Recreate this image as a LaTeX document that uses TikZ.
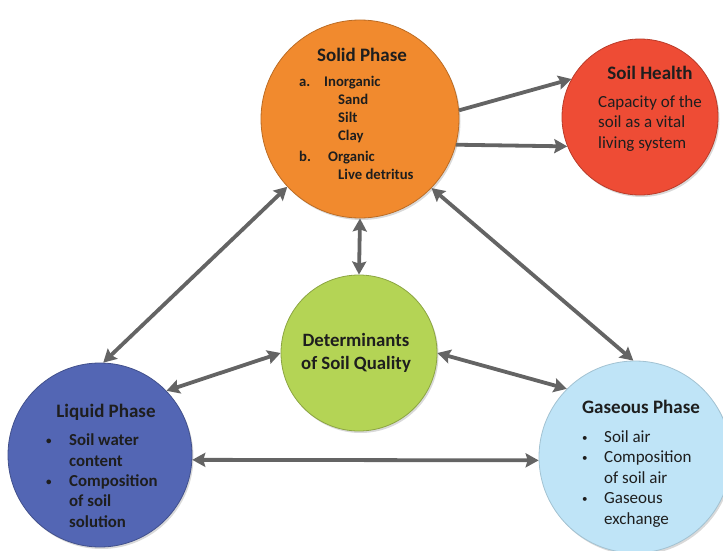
\documentclass[tikz,border=0pt]{standalone}
\usepackage{fontspec}
\setmainfont{Carlito}
\usepackage{xcolor}
\usetikzlibrary{arrows.meta,shadows}

\definecolor{solidorange}{HTML}{F18A2E}
\definecolor{healthred}{HTML}{EE4C35}
\definecolor{qualitygreen}{HTML}{B4D455}
\definecolor{liquidblue}{HTML}{5366B4}
\definecolor{gasblue}{HTML}{BFE4F7}
\definecolor{arrowgray}{HTML}{646464}
\definecolor{textdark}{HTML}{1E1E1E}

\newcommand{\titlefont}{\fontsize{19}{22}\selectfont\bfseries}
\newcommand{\smallbullet}{\raisebox{1pt}{\fontsize{11}{11}\selectfont\textbullet}}

\begin{document}
\begin{tikzpicture}[x=1pt,y=-1pt]
                \useasboundingbox (0,0) rectangle (723,551);

                \begin{scope}[every node/.style = {circle, draw, line width=0.8pt, inner sep=0pt,
                                drop shadow={opacity=0.3, shadow xshift=1.5pt, shadow yshift=-2pt}}]
                    \node (solid)   at (360,119) [fill=solidorange, draw=solidorange!78!black, minimum size=198pt] {};
                    \node (health)  at (640,117) [fill=healthred, draw=healthred!78!black, minimum size=156pt] {};
                    \node (quality) at (359,353) [fill=qualitygreen, draw=qualitygreen!78!black, minimum size=156pt] {};
                    \node (liquid)  at (100,455) [fill=liquidblue, draw=liquidblue!78!black, minimum size=184pt] {};
                    \node (gas)     at (635,457) [fill=gasblue, draw=gasblue!85!black, minimum size=192pt] {};
                \end{scope}

                \begin{scope}[every node/.style = {text=textdark, inner sep=0pt}]
                    \node (solidtitle) at (362,55) {\titlefont Solid Phase};
                    \node (solidlist) [anchor=north west, align=left,
                                       font=\fontsize{14.7}{18}\selectfont\bfseries] at (299,76)
                        {\makebox[25pt][l]{a.}Inorganic\\
                         \hspace*{39pt}Sand\\
                         \hspace*{39pt}Silt\\
                         \hspace*{39pt}Clay\\[3pt]
                         \makebox[29pt][l]{b.}Organic\\
                         \hspace*{39pt}Live detritus};

                    \node (healthtitle) at (650,73) {\titlefont Soil Health};
                    \node (healthtext) [anchor=north west, align=left,
                                        font=\fontsize{17}{20.5}\selectfont] at (598,95)
                        {Capacity of the\\ soil as a vital\\ living system};

                    \node (qualitytext) [align=center, font=\fontsize{18.8}{23}\selectfont\bfseries] at (356,353)
                        {Determinants\\ of Soil Quality};

                    \node (liquidtitle) at (106,412) {\titlefont Liquid Phase};
                    \node (liquidlist) [anchor=north west, align=left,
                                        font=\fontsize{16.8}{20.3}\selectfont\bfseries] at (46,434)
                        {\makebox[23pt][l]{\smallbullet}Soil water\\
                         \hspace*{23pt}content\\
                         \makebox[23pt][l]{\smallbullet}Composition\\
                         \hspace*{23pt}of soil\\
                         \hspace*{23pt}solution};

                    \node (gastitle) at (641,407) {\titlefont Gaseous Phase};
                    \node (gaslist) [anchor=north west, align=left,
                                     font=\fontsize{17}{20.5}\selectfont] at (582,430)
                        {\makebox[22pt][l]{\smallbullet}Soil air\\
                         \makebox[22pt][l]{\smallbullet}Composition\\
                         \hspace*{22pt}of soil air\\
                         \makebox[22pt][l]{\smallbullet}Gaseous\\
                         \hspace*{22pt}exchange};
                \end{scope}

                \begin{scope}[>={Stealth[length=13pt, width=14pt, inset=2pt]},
                                every edge/.style={draw=arrowgray, line width=3.8pt}]
                     \path [->] (solid.5) edge (health.151);
                     \path [->] (solid.-15) edge (health.202);
                     \path [<->] (solid.223) edge (liquid.88);
                     \path [<->] (solid.316) edge (gas.91);
                     \path [<->] (solid.270) edge (quality.90);
                     \path [<->] (quality.180) edge (liquid.44);
                     \path [<->] (quality.0) edge (gas.135);
                     \path [<->] (liquid.-3) edge (gas.182);
                \end{scope}
            \end{tikzpicture}
\end{document}
